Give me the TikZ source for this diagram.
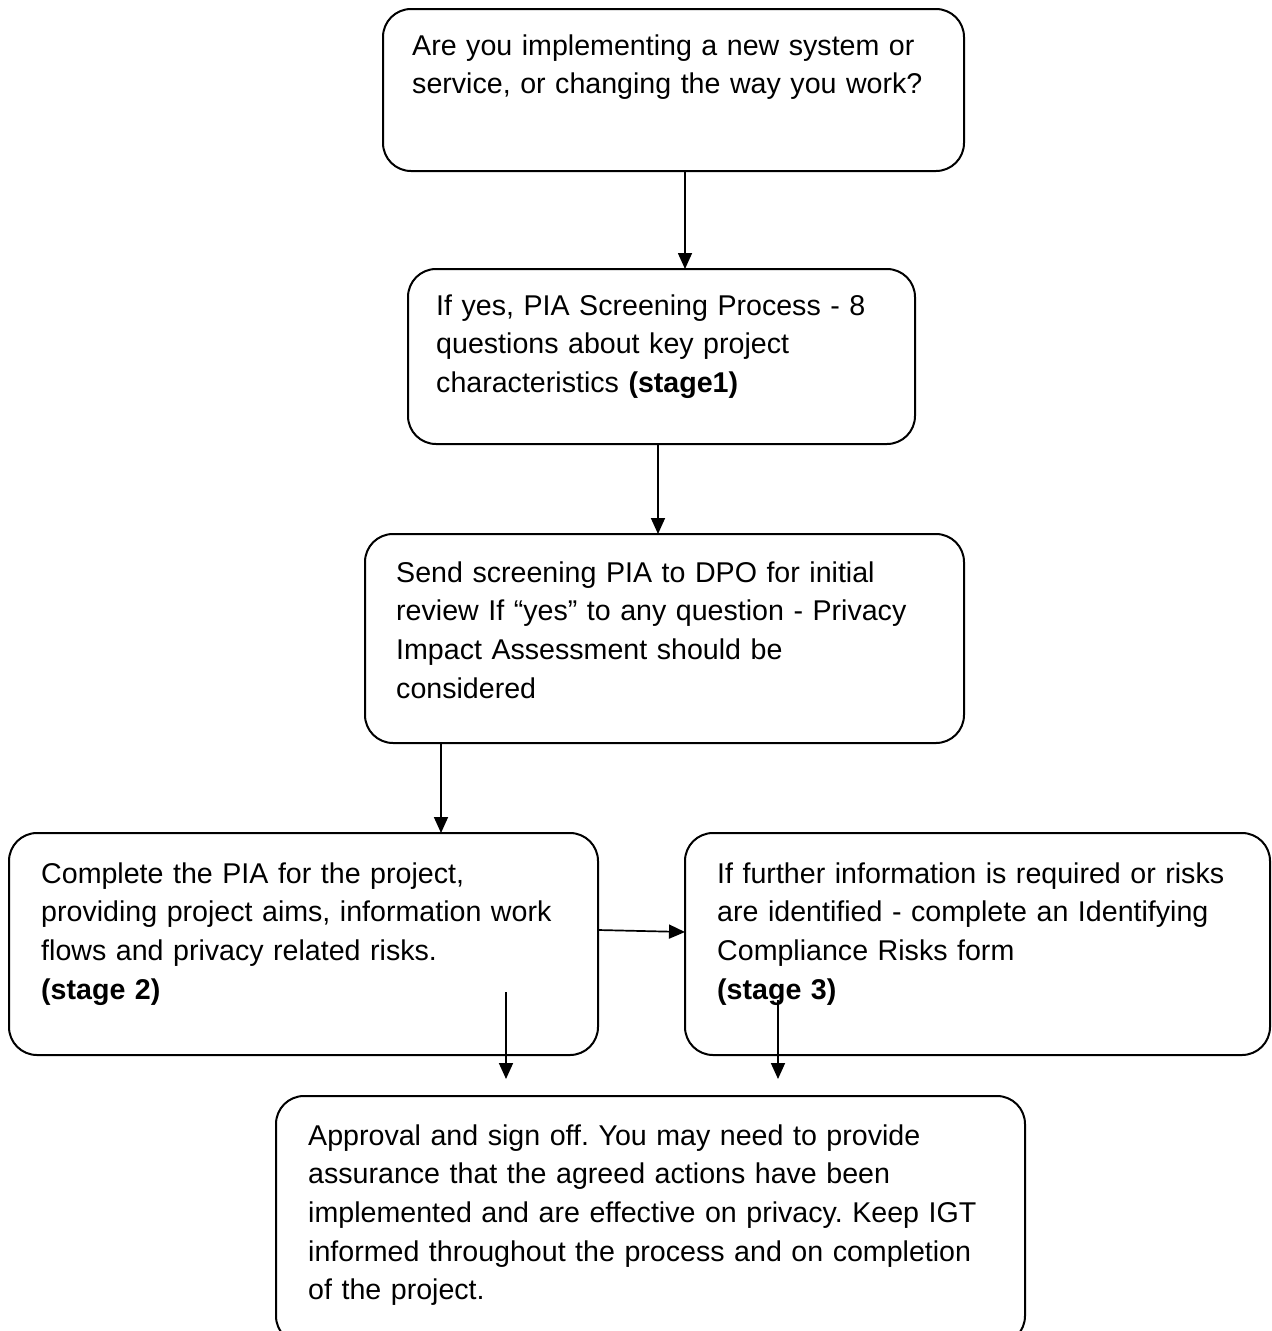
\documentclass[tikz,border=0pt]{standalone}
\usepackage{fontspec}
\setmainfont{Liberation Sans}
\usetikzlibrary{arrows.meta}
\begin{document}
\frenchspacing
\begin{tikzpicture}[x=1pt,y=-1pt,
  box/.style={draw, line width=2pt, rounded corners=28pt, inner sep=0pt, outer sep=0pt, anchor=north west},
  txt/.style={anchor=base west, inner sep=0pt, text width=700pt, align=left, font=\fontsize{28.6pt}{38.7pt}\selectfont\frenchspacing},
  arr/.style={line width=1.7pt, -{Triangle[width=14pt,length=16pt]}}]
\useasboundingbox (0,0) rectangle (1272,1331);
\clip (0,0) rectangle (1272,1331);
% boxes
\node[box, minimum width=581pt, minimum height=162pt] (b1) at (383,9) {};
\node[box, minimum width=507pt, minimum height=175pt] (b2) at (408,269) {};
\node[box, minimum width=599pt, minimum height=209pt] (b3) at (365,534) {};
\node[box, minimum width=589pt, minimum height=222pt] (b4) at (9,833) {};
\node[box, minimum width=585pt, minimum height=222pt] (b5) at (685,833) {};
\node[box, minimum width=749pt, minimum height=248pt] (b6) at (276,1096) {};
% texts
\node[txt] (t1) at (412,55) {Are you implementing a new system or\\service, or changing the way you work?};
\node[txt] (t2) at (436,315) {If yes, PIA Screening Process - 8\\questions about key project\\characteristics \textbf{(stage1)}};
\node[txt] (t3) at (396,582) {Send screening PIA to DPO for initial\\review If “yes” to any question - Privacy\\Impact Assessment should be\\considered};
\node[txt] (t4) at (41,883) {Complete the PIA for the project,\\providing project aims, information work\\flows and privacy related risks.\\\textbf{(stage 2)}};
\node[txt] (t5) at (717,883) {If further information is required or risks\\are identified - complete an Identifying\\Compliance Risks form\\\textbf{(stage 3)}};
\node[txt] (t6) at (308,1145) {Approval and sign off. You may need to provide\\assurance that the agreed actions have been\\implemented and are effective on privacy. Keep IGT\\informed throughout the process and on completion\\of the project.};
% connectors
\draw[arr] (b1.south -| 685,0) -- (b2.north -| 685,0);
\draw[arr] (b2.south -| 658,0) -- (b3.north -| 658,0);
\draw[arr] (b3.south -| 441,0) -- (b4.north -| 441,0);
\draw[arr] ([yshift=14pt]b4.east) -- ([yshift=12pt]b5.west);
\coordinate (s5) at (506,992);
\coordinate (e5) at (506,1079);
\coordinate (s6) at (778,1000);
\coordinate (e6) at (778,1079);
\draw[arr] (s5) -- (e5);
\draw[arr] (s6) -- (e6);
\end{tikzpicture}
\end{document}
